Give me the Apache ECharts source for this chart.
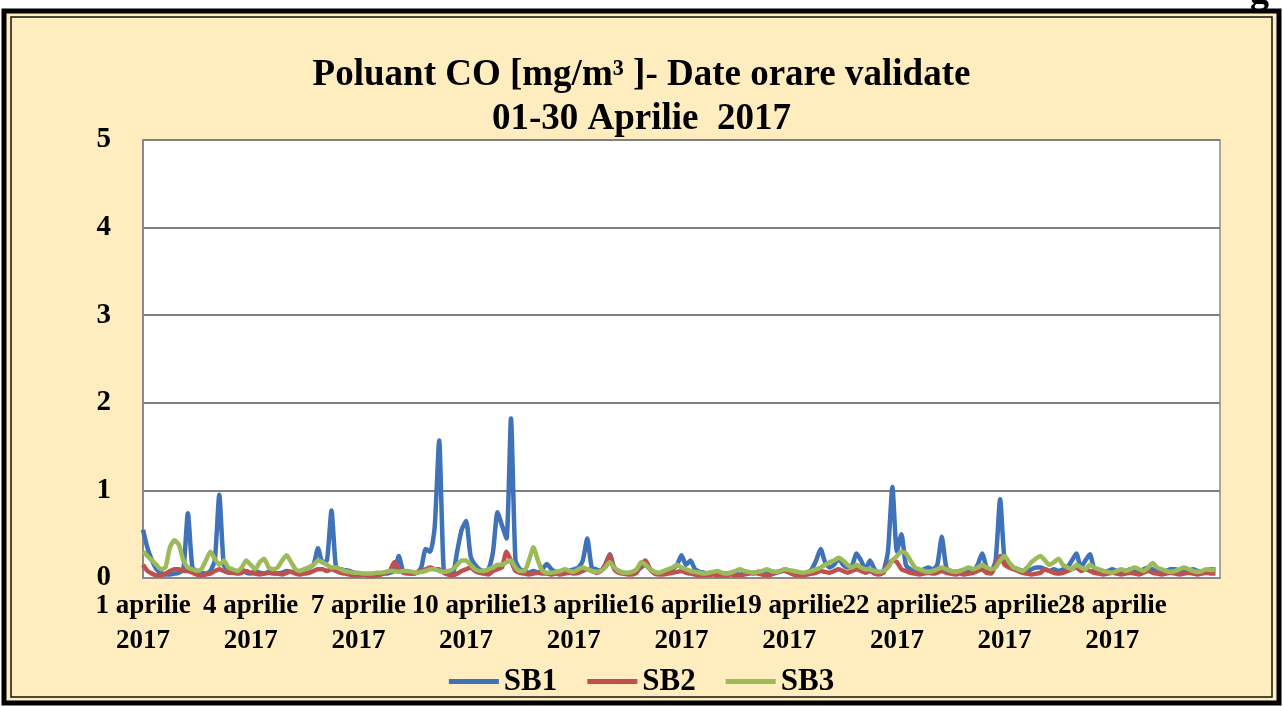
<!DOCTYPE html>
<html>
<head>
<meta charset="utf-8">
<script src="https://cdn.jsdelivr.net/npm/echarts@6/dist/echarts.min.js"></script>
<style>
  html, body { margin: 0; padding: 0; background: #fff; }
  #chart { width: 1283px; height: 706px; }
</style>
</head>
<body>
<div id="chart"></div>
<script>
// valori la 3 ore (8 pe zi), 30 zile
var sb1 = [
  0.55,0.34,0.2,0.1,0.06,0.04,0.04,0.05,0.06,0.1,
  0.74,0.12,0.08,0.06,0.05,0.08,0.2,0.95,0.15,0.1,
  0.08,0.07,0.1,0.06,0.05,0.08,0.06,0.05,0.07,0.06,
  0.05,0.06,0.08,0.07,0.06,0.08,0.1,0.12,0.15,0.34,
  0.18,0.2,0.77,0.12,0.1,0.09,0.08,0.06,0.05,0.04,
  0.04,0.03,0.04,0.05,0.05,0.06,0.08,0.25,0.07,0.06,
  0.05,0.06,0.12,0.33,0.3,0.58,1.57,0.1,0.06,0.05,
  0.3,0.55,0.65,0.25,0.15,0.1,0.08,0.1,0.3,0.75,
  0.6,0.45,1.82,0.2,0.1,0.08,0.06,0.08,0.06,0.1,
  0.16,0.1,0.07,0.06,0.07,0.08,0.1,0.12,0.2,0.45,
  0.12,0.1,0.08,0.15,0.27,0.12,0.08,0.06,0.05,0.06,
  0.08,0.12,0.15,0.1,0.06,0.05,0.05,0.06,0.1,0.15,
  0.26,0.15,0.2,0.1,0.07,0.06,0.05,0.05,0.06,0.05,
  0.05,0.06,0.05,0.04,0.05,0.06,0.05,0.07,0.06,0.05,
  0.05,0.06,0.07,0.1,0.08,0.06,0.06,0.05,0.06,0.1,
  0.2,0.33,0.18,0.12,0.15,0.22,0.15,0.12,0.14,0.28,
  0.2,0.1,0.2,0.1,0.06,0.08,0.3,1.04,0.3,0.5,
  0.15,0.1,0.08,0.07,0.1,0.12,0.1,0.15,0.47,0.12,
  0.08,0.07,0.08,0.06,0.07,0.08,0.15,0.28,0.12,0.08,
  0.2,0.9,0.2,0.15,0.12,0.1,0.08,0.07,0.1,0.12,
  0.12,0.1,0.08,0.1,0.08,0.1,0.12,0.2,0.28,0.12,
  0.2,0.27,0.1,0.08,0.07,0.08,0.1,0.08,0.07,0.08,
  0.1,0.08,0.07,0.1,0.12,0.1,0.08,0.07,0.08,0.1,
  0.1,0.08,0.07,0.08,0.1,0.08,0.07,0.08,0.1,0.1
];
var sb2 = [
  0.15,0.08,0.05,0.03,0.03,0.05,0.08,0.1,0.1,0.08,
  0.08,0.06,0.04,0.03,0.04,0.05,0.08,0.1,0.08,0.06,
  0.06,0.05,0.06,0.08,0.06,0.05,0.04,0.05,0.06,0.05,
  0.05,0.04,0.06,0.07,0.05,0.04,0.05,0.06,0.08,0.1,
  0.1,0.08,0.1,0.08,0.06,0.05,0.04,0.03,0.03,0.04,
  0.03,0.02,0.03,0.04,0.06,0.08,0.18,0.1,0.06,0.05,
  0.05,0.06,0.08,0.1,0.12,0.1,0.1,0.06,0.04,0.03,
  0.05,0.08,0.1,0.12,0.08,0.06,0.05,0.04,0.08,0.1,
  0.12,0.3,0.2,0.08,0.06,0.05,0.04,0.05,0.06,0.05,
  0.05,0.04,0.05,0.04,0.05,0.06,0.05,0.06,0.08,0.1,
  0.08,0.06,0.08,0.15,0.26,0.1,0.06,0.05,0.04,0.04,
  0.06,0.15,0.2,0.1,0.05,0.04,0.04,0.05,0.06,0.07,
  0.08,0.06,0.05,0.04,0.03,0.03,0.03,0.04,0.03,0.03,
  0.03,0.04,0.03,0.03,0.04,0.05,0.06,0.05,0.04,0.03,
  0.04,0.06,0.08,0.08,0.06,0.04,0.03,0.03,0.04,0.05,
  0.06,0.08,0.07,0.06,0.08,0.1,0.08,0.06,0.08,0.1,
  0.08,0.06,0.08,0.05,0.04,0.06,0.15,0.2,0.18,0.1,
  0.08,0.06,0.05,0.04,0.05,0.06,0.05,0.06,0.08,0.06,
  0.05,0.04,0.05,0.04,0.05,0.06,0.08,0.1,0.06,0.05,
  0.15,0.25,0.15,0.12,0.1,0.08,0.06,0.05,0.04,0.05,
  0.06,0.1,0.08,0.06,0.05,0.06,0.08,0.1,0.12,0.08,
  0.1,0.08,0.06,0.05,0.04,0.05,0.06,0.05,0.04,0.05,
  0.06,0.05,0.04,0.06,0.08,0.06,0.05,0.04,0.05,0.06,
  0.05,0.04,0.05,0.06,0.05,0.04,0.05,0.06,0.05,0.05
];
var sb3 = [
  0.3,0.25,0.2,0.15,0.1,0.12,0.35,0.43,0.38,0.2,
  0.12,0.1,0.08,0.1,0.2,0.3,0.22,0.15,0.2,0.12,
  0.1,0.08,0.12,0.2,0.15,0.1,0.18,0.22,0.12,0.1,
  0.12,0.2,0.26,0.18,0.1,0.08,0.1,0.12,0.15,0.2,
  0.18,0.15,0.12,0.12,0.1,0.08,0.07,0.06,0.06,0.05,
  0.05,0.05,0.06,0.06,0.07,0.08,0.08,0.07,0.08,0.08,
  0.07,0.06,0.07,0.08,0.1,0.1,0.08,0.07,0.08,0.1,
  0.15,0.2,0.2,0.15,0.1,0.08,0.08,0.1,0.12,0.15,
  0.15,0.18,0.2,0.12,0.08,0.08,0.2,0.35,0.2,0.08,
  0.06,0.06,0.07,0.08,0.1,0.08,0.07,0.1,0.12,0.1,
  0.08,0.07,0.08,0.12,0.18,0.12,0.08,0.06,0.06,0.07,
  0.1,0.18,0.15,0.1,0.07,0.06,0.08,0.1,0.12,0.15,
  0.12,0.1,0.08,0.07,0.06,0.05,0.06,0.07,0.08,0.06,
  0.05,0.06,0.08,0.1,0.08,0.07,0.06,0.07,0.08,0.1,
  0.08,0.07,0.08,0.1,0.09,0.08,0.07,0.06,0.07,0.08,
  0.1,0.12,0.15,0.18,0.2,0.23,0.2,0.15,0.12,0.15,
  0.12,0.1,0.1,0.08,0.07,0.08,0.12,0.2,0.25,0.3,
  0.28,0.2,0.12,0.1,0.08,0.07,0.08,0.1,0.12,0.1,
  0.08,0.07,0.08,0.1,0.12,0.1,0.12,0.15,0.12,0.1,
  0.12,0.2,0.25,0.18,0.12,0.1,0.08,0.12,0.18,0.22,
  0.25,0.2,0.15,0.18,0.22,0.15,0.12,0.1,0.15,0.12,
  0.1,0.15,0.12,0.1,0.08,0.07,0.06,0.08,0.1,0.08,
  0.1,0.12,0.1,0.08,0.12,0.17,0.12,0.1,0.08,0.07,
  0.08,0.1,0.12,0.1,0.08,0.07,0.08,0.1,0.09,0.1
];
var seriesNames = ['SB1', 'SB2', 'SB3'];
var stepHours = 3;
var yTicks = [0, 1, 2, 3, 4, 5];

var serif = '"Liberation Serif", "DejaVu Serif", serif';

function toPoints(arr) {
  return arr.map(function(v, i) { return [i * stepHours, v]; });
}

var chart = echarts.init(document.getElementById('chart'));
var option = {
  backgroundColor: '#fff',
  graphic: [
    { type: 'rect', shape: { x: 4, y: 11, width: 1275, height: 692 },
      style: { fill: '#FFEDBF', stroke: '#000', lineWidth: 5 }, z: -10 },
    { type: 'rect', shape: { x: 11, y: 17, width: 1261, height: 680 },
      style: { fill: 'none', stroke: '#111', lineWidth: 1.5 }, z: -9 },
    { type: 'text', left: 1250, top: -26,
      style: { text: 'g', font: 'bold 38px ' + serif, fill: '#000' } }
  ],
  title: {
    text: 'Poluant CO [mg/m³ ]- Date orare validate\n01-30 Aprilie  2017',
    left: 'center',
    top: 48,
    textStyle: {
      fontFamily: serif,
      fontWeight: 'bold',
      fontSize: 37,
      lineHeight: 44,
      color: '#000'
    }
  },
  legend: {
    data: seriesNames,
    bottom: 4,
    left: 'center',
    icon: 'rect',
    itemWidth: 50,
    itemHeight: 5,
    itemGap: 30,
    textStyle: { fontFamily: serif, fontWeight: 'bold', fontSize: 31, color: '#000' }
  },
  grid: {
    left: 143, right: 63, top: 140, bottom: 128,
    show: true, backgroundColor: '#fff', borderColor: '#8a8a8a', borderWidth: 1.5
  },
  xAxis: {
    type: 'value',
    min: 0, max: 720, interval: 72,
    axisLine: { show: true, lineStyle: { color: '#8a8a8a', width: 2 } },
    axisTick: { show: false },
    splitLine: { show: false },
    axisLabel: {
      margin: 11,
      fontFamily: serif, fontWeight: 'bold', fontSize: 27, lineHeight: 35, color: '#000',
      formatter: function(v) {
        if (v >= 720) return '';
        return (v / 24 + 1) + ' aprilie\n2017';
      }
    }
  },
  yAxis: {
    type: 'value',
    min: yTicks[0], max: yTicks[yTicks.length - 1], interval: 1,
    axisLine: { show: true, lineStyle: { color: '#8a8a8a', width: 2 } },
    axisTick: { show: false },
    splitLine: { lineStyle: { color: '#808080', width: 2 } },
    axisLabel: { margin: 32, fontFamily: serif, fontWeight: 'bold', fontSize: 29, color: '#000' }
  },
  series: [
    { name: 'SB1', type: 'line', data: toPoints(sb1), showSymbol: false, smooth: 0.2,
      lineStyle: { color: '#3F72B8', width: 4.5 }, itemStyle: { color: '#3F72B8' } },
    { name: 'SB2', type: 'line', data: toPoints(sb2), showSymbol: false, smooth: 0.2,
      lineStyle: { color: '#C0504D', width: 4.5 }, itemStyle: { color: '#C0504D' } },
    { name: 'SB3', type: 'line', data: toPoints(sb3), showSymbol: false, smooth: 0.2,
      lineStyle: { color: '#9BBB59', width: 4.5 }, itemStyle: { color: '#9BBB59' } }
  ]
};
chart.setOption(option);
</script>
</body>
</html>
